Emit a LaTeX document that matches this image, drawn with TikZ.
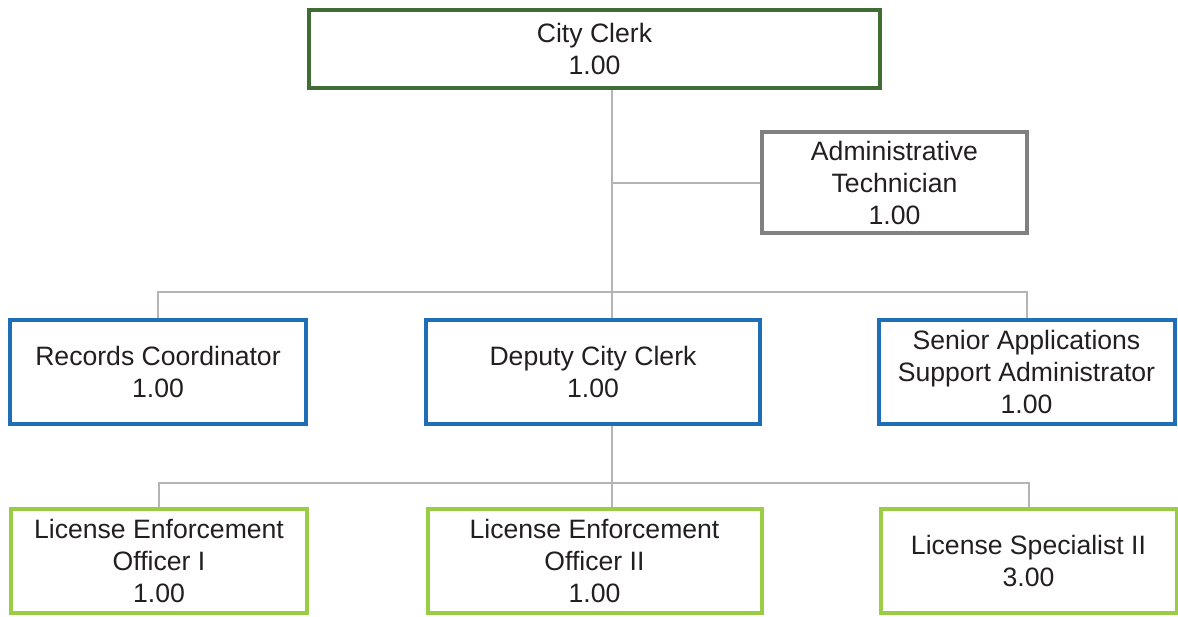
\documentclass[tikz,border=0pt]{standalone}
\usepackage{fontspec}
\setmainfont{Liberation Sans}
\usetikzlibrary{backgrounds}

\definecolor{topgreen}{RGB}{64,109,51}
\definecolor{admingray}{RGB}{128,128,128}
\definecolor{midblue}{RGB}{31,111,184}
\definecolor{lowgreen}{RGB}{155,204,70}
\definecolor{linkgray}{RGB}{180,180,180}
\definecolor{txt}{RGB}{35,31,32}

\begin{document}
\begin{tikzpicture}[x=0.5pt,y=-0.5pt,
  box/.style={draw,fill=white,line width=2pt,align=center,inner sep=0pt,
    text=txt,font=\fontsize{13.3}{16}\selectfont},
  sidebox/.style={box,minimum width=148pt,minimum height=52pt},
  midbox/.style={box,minimum width=167pt,minimum height=52pt},
  link/.style={draw=linkgray,line width=1pt}]
\useasboundingbox (0,0) rectangle (1178,616);

% top
\node[box,draw=topgreen,minimum width=285.5pt,minimum height=39pt] (clerk) at (594.5,49) {City Clerk\\1.00};
\node[box,draw=admingray,line width=1.8pt,minimum width=132.5pt,minimum height=50.5pt] (admin) at (894.5,182.5) {Administrative\\Technician\\1.00};

% middle row
\node[sidebox,draw=midblue] (records) at (158,372) {Records Coordinator\\1.00};
\node[midbox,draw=midblue] (deputy) at (593,372) {Deputy City Clerk\\1.00};
\node[sidebox,draw=midblue] (senior) at (1026.5,372) {Senior Applications\\Support Administrator\\1.00};

% bottom row
\node[sidebox,draw=lowgreen] (leoone) at (159,560.5) {License Enforcement\\Officer I\\1.00};
\node[midbox,draw=lowgreen] (leotwo) at (594.5,560.5) {License Enforcement\\Officer II\\1.00};
\node[sidebox,draw=lowgreen] (lictwo) at (1028.5,560.5) {License Specialist II\\3.00};

\coordinate (trunk) at (612,0);
\coordinate (busmid) at (0,292);
\coordinate (buslow) at (0,483);

\begin{pgfonlayer}{background}
\draw[link] (clerk.south -| trunk) -- (deputy.north -| trunk);
\draw[link] (trunk |- admin.west) -- (admin.west);
\draw[link] (records.north) -- (records.north |- busmid) -- (senior.north |- busmid) -- (senior.north);
\draw[link] (deputy.south -| trunk) -- (leotwo.north -| trunk);
\draw[link] (leoone.north) -- (leoone.north |- buslow) -- (lictwo.north |- buslow) -- (lictwo.north);
\end{pgfonlayer}
\end{tikzpicture}
\end{document}
